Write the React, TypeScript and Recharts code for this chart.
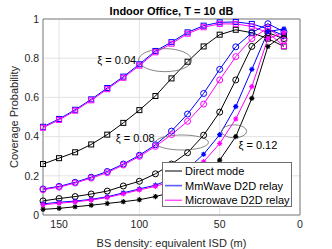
import React from 'react';
import { LineChart, Line, XAxis, YAxis, CartesianGrid, ReferenceDot, ReferenceLine, Legend } from 'recharts';

// ISD values (m)
const isd = [160, 150, 140, 130, 120, 110, 100, 90, 80, 70, 60, 50, 40, 30, 20, 10];

// xi = 0.04
const direct004 = [0.26, 0.29, 0.32, 0.36, 0.41, 0.47, 0.535, 0.607, 0.697, 0.782, 0.86, 0.92, 0.945, 0.93, 0.9, 0.86];
const mmw004 = [0.45, 0.49, 0.537, 0.59, 0.648, 0.706, 0.769, 0.837, 0.882, 0.932, 0.966, 0.983, 0.985, 0.975, 0.95, 0.915];
const micro004 = [0.445, 0.485, 0.532, 0.585, 0.642, 0.7, 0.762, 0.83, 0.874, 0.925, 0.958, 0.975, 0.975, 0.962, 0.93, 0.862];

// xi = 0.08
const direct008 = [0.072, 0.084, 0.094, 0.107, 0.122, 0.148, 0.172, 0.21, 0.26, 0.318, 0.407, 0.525, 0.689, 0.86, 0.93, 0.9];
const mmw008 = [0.133, 0.146, 0.167, 0.193, 0.222, 0.26, 0.305, 0.358, 0.428, 0.515, 0.62, 0.743, 0.858, 0.93, 0.976, 0.935];
const micro008 = [0.129, 0.142, 0.163, 0.188, 0.216, 0.255, 0.299, 0.35, 0.41, 0.478, 0.566, 0.689, 0.808, 0.9, 0.955, 0.892];

// xi = 0.12
const direct012 = [0.029, 0.034, 0.042, 0.05, 0.059, 0.068, 0.078, 0.094, 0.115, 0.145, 0.2, 0.28, 0.4, 0.595, 0.86, 0.92];
const mmw012 = [0.057, 0.065, 0.071, 0.08, 0.093, 0.113, 0.133, 0.152, 0.185, 0.235, 0.31, 0.41, 0.553, 0.743, 0.935, 0.95];
const micro012 = [0.052, 0.06, 0.067, 0.076, 0.089, 0.108, 0.128, 0.146, 0.172, 0.212, 0.272, 0.365, 0.49, 0.655, 0.9, 0.93];

const xTicks = [0, 50, 100, 150];
const yTicks = [0, 0.2, 0.4, 0.6, 0.8, 1];

const modeNames = ['Direct mode', 'MmWave D2D relay', 'Microwave D2D relay'];

// annotations: label, ellipse center (isd, prob), label anchor (isd, prob)
const annotationLabels = ['ξ = 0.04', 'ξ = 0.08', 'ξ = 0.12'];
const ellipseIsd = [84, 73.5, 41];
const ellipseProb = [0.79, 0.37, 0.427];
const labelIsd = [102, 90.5, 38.3];
const labelProb = [0.79, 0.392, 0.357];

const data = isd.map((x, i) => ({
  isd: x,
  d004: direct004[i], m004: mmw004[i], u004: micro004[i],
  d008: direct008[i], m008: mmw008[i], u008: micro008[i],
  d012: direct012[i], m012: mmw012[i], u012: micro012[i],
}));

const FONT = '"Liberation Sans", Arial, Helvetica, sans-serif';
const TXT = '#262626';
const colors = ['#000000', '#0000ff', '#ff00ff'];

const squareDot = (color: string) => (p: any) => {
  const { cx, cy, index } = p;
  if (cx == null || cy == null) return <g key={`s${index}`} />;
  return <rect key={`s${index}`} x={cx - 2.5} y={cy - 2.5} width={5} height={5} fill="none" stroke={color} strokeWidth={1} />;
};
const circleDot = (color: string) => (p: any) => {
  const { cx, cy, index } = p;
  if (cx == null || cy == null) return <g key={`c${index}`} />;
  return <circle key={`c${index}`} cx={cx} cy={cy} r={3} fill="none" stroke={color} strokeWidth={1} />;
};
const starDot = (color: string) => (p: any) => {
  const { cx, cy, index } = p;
  if (cx == null || cy == null) return <g key={`a${index}`} />;
  const r = 2.6, d = 1.85;
  const path = `M${cx - r},${cy}L${cx + r},${cy}M${cx},${cy - r}L${cx},${cy + r}M${cx - d},${cy - d}L${cx + d},${cy + d}M${cx - d},${cy + d}L${cx + d},${cy - d}`;
  return <path key={`a${index}`} d={path} stroke={color} strokeWidth={1.1} fill="none" />;
};

const series = [
  { key: 'd004', c: 0, dot: squareDot },
  { key: 'm004', c: 1, dot: squareDot },
  { key: 'u004', c: 2, dot: squareDot },
  { key: 'd008', c: 0, dot: circleDot },
  { key: 'm008', c: 1, dot: circleDot },
  { key: 'u008', c: 2, dot: circleDot },
  { key: 'd012', c: 0, dot: starDot },
  { key: 'm012', c: 1, dot: starDot },
  { key: 'u012', c: 2, dot: starDot },
];

const ellipseSizes = [[26.5, 11.5], [26.5, 7.5], [12.5, 6.5]];
const labelAnchors: ('end' | 'start')[] = ['end', 'end', 'start'];

const LegendContent = () => (
  <svg width={130} height={45} style={{ display: 'block' }}>
    <rect x={0.5} y={0.5} width={129} height={44} fill="#ffffff" stroke="#6e6e6e" strokeWidth={1} />
    {modeNames.map((name, i) => {
      const y = 9 + i * 14.6;
      return (
        <g key={name}>
          <line x1={3} x2={20} y1={y} y2={y} stroke={i === 1 ? '#5c5cff' : colors[i]} strokeWidth={i === 1 ? 1.6 : 1} />
          <text x={23} y={y} dominantBaseline="central" fontFamily={FONT} fontSize={11} fill="#000">{name}</text>
        </g>
      );
    })}
  </svg>
);

export default function App() {
  return (
    <div style={{ position: 'absolute', left: 0, top: 0, width: 332, height: 249, background: '#fff' }}>
      <LineChart width={332} height={249} data={data} margin={{ top: 19, right: 32, bottom: 0, left: 0 }}>
        <CartesianGrid stroke="#e3e3e3" strokeWidth={1} />
        <XAxis
          dataKey="isd"
          type="number"
          domain={[0, 160]}
          reversed
          ticks={xTicks}
          height={34}
          tickSize={0}
          tickMargin={6}
          axisLine={{ stroke: '#808080' }}
          tick={{ fontSize: 10.5, fill: TXT, fontFamily: FONT }}
          label={{ value: 'BS density: equivalent ISD (m)', position: 'insideBottom', offset: 2, fontSize: 11, fill: TXT, fontFamily: FONT }}
        />
        <YAxis
          type="number"
          domain={[0, 1]}
          ticks={yTicks}
          width={43}
          tickSize={0}
          tickMargin={4}
          axisLine={{ stroke: '#808080' }}
          tickFormatter={(v: number) => String(v)}
          tick={{ fontSize: 10.5, fill: TXT, fontFamily: FONT }}
        />
        <ReferenceLine y={1} stroke="#808080" strokeWidth={1} />
        <ReferenceLine x={0} stroke="#808080" strokeWidth={1} />
        {series.map((s) => (
          <Line
            key={s.key}
            dataKey={s.key}
            stroke={colors[s.c]}
            strokeWidth={1}
            dot={s.dot(colors[s.c])}
            activeDot={false}
            isAnimationActive={false}
            legendType="none"
          />
        ))}
        {annotationLabels.map((lab, i) => (
          <ReferenceDot
            key={`e${i}`}
            x={ellipseIsd[i]}
            y={ellipseProb[i]}
            shape={(p: any) => (
              <ellipse cx={p.cx} cy={p.cy} rx={ellipseSizes[i][0]} ry={ellipseSizes[i][1]} fill="none" stroke="#6a6a6a" strokeWidth={0.8} />
            )}
          />
        ))}
        {annotationLabels.map((lab, i) => (
          <ReferenceDot
            key={`t${i}`}
            x={labelIsd[i]}
            y={labelProb[i]}
            shape={(p: any) => (
              <text x={p.cx} y={p.cy} textAnchor={labelAnchors[i]} dominantBaseline="central" fontFamily={FONT} fontSize={11} fill="#000">{lab}</text>
            )}
          />
        ))}
        <text x={171.5} y={11} textAnchor="middle" dominantBaseline="central" fontFamily={FONT} fontSize={11} fontWeight="bold" fill="#000">
          Indoor Office, T = 10 dB
        </text>
        <text x={14} y={117} textAnchor="middle" dominantBaseline="central" transform="rotate(-90, 14, 117)" fontFamily={FONT} fontSize={11} fill={TXT}>
          Coverage Probability
        </text>
        <Legend
          layout="vertical"
          align="center"
          verticalAlign="middle"
          wrapperStyle={{ left: 162, top: 162, width: 130, height: 45 }}
          content={() => <LegendContent />}
        />
      </LineChart>
    </div>
  );
}
